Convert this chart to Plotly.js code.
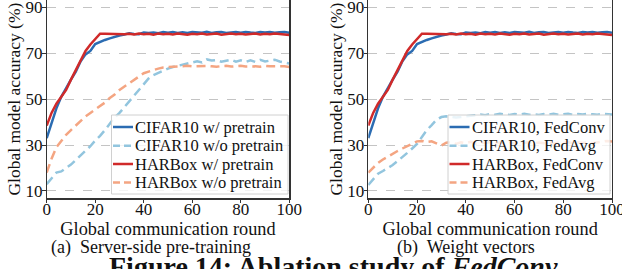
<!DOCTYPE html>
<html>
<head>
<meta charset="utf-8">
<script src="https://cdn.plot.ly/plotly-3.0.1.min.js"></script>
<style>html,body{margin:0;padding:0;background:#fff;}#chart{width:622px;height:269px;}</style>
</head>
<body>
<div id="chart"></div>
<script>
// ---- data ----
const rounds = [0,2,4,6,8,10,12,14,16,18,20,22,24,26,28,30,32,34,36,38,40,42,44,46,48,50,52,54,56,58,60,62,64,66,68,70,72,74,76,78,80,82,84,86,88,90,92,94,96,98,100];

const cifarPretrain = [33,40,46,51,55,58.5,62,66.5,69.5,71,74,75,75.8,76.5,77.2,77.7,78.2,78.7,78.4,78.3,79,78.8,79,78.7,79.2,78.9,79.2,78.8,79.1,78.8,79.2,79,78.9,79.3,78.8,79.1,79.2,78.8,79,79.2,78.9,79.3,79,78.8,79.2,79,79.3,78.9,79.1,79.3,78.9];
const harPretrain = [38.5,44,48,50.8,54,58.5,62.5,67,71,73.8,76,78.5,78.5,78.4,78.5,78.4,78.3,78.5,78.2,78.6,78.3,78.5,78.1,78.6,78.3,78.5,78.2,78.6,78.3,78.1,78.5,78.3,78.6,78.2,78.4,78.6,78.1,78.4,78.6,78.3,78.5,78.2,78.4,78.6,78.2,78.5,78.3,78.6,78.4,78.2,78];
const cifarNoPretrain = [13,15.5,18,18.5,20,21.5,23.5,25.5,27.5,29.5,32,34,36.5,39.5,42,44,46.5,49.5,51.5,54,57,59,60.5,61.5,62.5,63.3,64,64.5,65.2,65.8,66.3,66.5,66,67.3,66.8,67,66.3,66.6,67.2,66.3,66.9,66.2,66.9,66.2,67.1,66.4,66.8,67.2,66.4,65.8,65.5];
const harNoPretrain = [18,24,29,32,34.5,36.5,38.5,40.5,42.5,44,45.5,47,48.5,50.5,52,54,55.5,57,58.5,60,61.3,62,62.8,63.3,63.8,64,64.2,64.4,64.3,64.5,64.3,64.4,64.2,64.5,64.3,64.1,64.4,64.5,64.2,64.3,64.5,64.2,64.4,64.3,64.1,64.5,64.3,64.4,64.2,64.3,64];
const cifarFedAvg = [12.6,15,17.5,18.7,20,21.3,23,25,26.6,28.5,30.5,33.5,36.5,38.7,41,42.2,42.5,42.3,42,42.2,42.5,42.7,43.1,43.3,43,43.5,43.2,43.6,43.3,43.1,43.5,43.3,43.6,43.2,43.4,43.1,43.5,43.3,43.6,43.2,43.4,43.6,43.2,43.5,43.3,43.6,43.4,43.2,43.6,43.5,43.3];
const harFedAvg = [18,20.3,22.2,23.7,25,26.3,27.4,28.5,29.6,30.6,31.6,31.8,31.3,31.6,30.6,29.8,31,31.3,30.5,31.2,30.8,31.4,30.6,31.2,30.9,31.3,30.7,31.1,30.8,31.3,30.6,31.2,30.9,31.3,30.7,31.1,30.8,31.2,30.6,31.1,30.9,31.3,30.7,31.2,30.9,31.3,30.8,31.2,31.5,31.8,31.5];

const namesA = ["CIFAR10 w/ pretrain","CIFAR10 w/o pretrain","HARBox w/ pretrain","HARBox w/o pretrain"];
const namesB = ["CIFAR10, FedConv","CIFAR10, FedAvg","HARBox, FedConv","HARBox, FedAvg"];
const xTickVals = [0,20,40,60,80,100];
const yTickVals = [10,30,50,70,90];
const xTitle = "Global communication round";
const yTitle = "Global model accuracy (%)";
const captionA = "(a)  Server-side pre-training";
const captionB = "(b)  Weight vectors";
const figCaption = "Figure 14: Ablation study of <i>FedConv</i>";

// ---- styles ----
const W = 622, H = 269;
const FONT = "'Liberation Serif', 'Times New Roman', serif";
const TXT = "#111";
const styles = [
  {color:"#2b6cb2", dash:"solid"},
  {color:"#92c5de", dash:"9px,5px"},
  {color:"#d02a2a", dash:"solid"},
  {color:"#f4a582", dash:"9px,5px"}
];
const LW = 2.5;
const px = x => x / W;
const py = y => 1 - y / H;

const seriesA = [cifarPretrain, cifarNoPretrain, harPretrain, harNoPretrain];
const seriesB = [cifarPretrain, cifarFedAvg, harPretrain, harFedAvg];

const traces = [];
const order = [1,3,0,2];
order.forEach(i => {
  traces.push({x: rounds, y: seriesA[i], type:"scatter", mode:"lines", name:namesA[i], showlegend:false,
    xaxis:"x", yaxis:"y", line:{color:styles[i].color, dash:styles[i].dash, width:LW}});
});
order.forEach(i => {
  traces.push({x: rounds, y: seriesB[i], type:"scatter", mode:"lines", name:namesB[i], showlegend:false,
    xaxis:"x2", yaxis:"y2", line:{color:styles[i].color, dash:styles[i].dash, width:LW}});
});

const yRange = [6.8, 93.2];
const plotBottom = 198.3;
function xax(dom){
  return {domain:dom, range:[0,100], tickvals:xTickVals, ticks:"outside", ticklen:3.5, tickwidth:1, tickcolor:"#333",
    showline:true, linecolor:"#333", linewidth:1.2, mirror:false, showgrid:false, zeroline:false,
    ticklabeloverflow:"allow", ticklabelstandoff:-8,
    tickfont:{family:FONT, size:17, color:TXT},
    title:{text:xTitle, font:{family:FONT, size:18.3, color:TXT}, standoff:0}, fixedrange:true};
}
function yax(anchor){
  return {anchor:anchor, domain:[py(plotBottom),1], range:yRange, tickvals:yTickVals, ticks:"outside", ticklen:3.5, tickwidth:1, tickcolor:"#333",
    showline:true, linecolor:"#333", linewidth:1.2, mirror:true, showgrid:true, gridcolor:"#c4c4c4", gridwidth:1, griddash:"dash",
    zeroline:false, ticklabeloverflow:"allow", ticklabelstandoff:-4, tickfont:{family:FONT, size:17, color:TXT},
    title:{text:yTitle, font:{family:FONT, size:17.5, color:TXT}, standoff:0}, fixedrange:true};
}

const shapes = [];
const annotations = [];
function legend(x0, x1, lineX0, lineX1, textX, names){
  const top = 115, bot = 194;
  shapes.push({type:"rect", xref:"paper", yref:"paper", x0:px(x0), x1:px(x1), y0:py(bot), y1:py(top),
    line:{color:"#d0d0d0", width:1}, fillcolor:"rgba(255,255,255,0.8)", layer:"above"});
  const rows = [127, 145.7, 164, 182.5];
  names.forEach((n,i) => {
    shapes.push({type:"line", xref:"paper", yref:"paper", x0:px(lineX0), x1:px(lineX1), y0:py(rows[i]), y1:py(rows[i]),
      line:{color:styles[i].color, width:LW, dash:styles[i].dash==="solid"?"solid":"7px,4px"}, layer:"above"});
    annotations.push({xref:"paper", yref:"paper", x:px(textX), y:py(rows[i]), xanchor:"left", yanchor:"middle",
      text:n, showarrow:false, font:{family:FONT, size:16.5, color:TXT}});
  });
}
legend(111.5, 288, 113, 133, 133, namesA);
legend(448, 610, 449.5, 469.5, 470, namesB);

annotations.push({xref:"paper", yref:"paper", x:px(151), y:py(247), xanchor:"center", yanchor:"middle",
  text:captionA, showarrow:false, font:{family:FONT, size:18, color:TXT}});
annotations.push({xref:"paper", yref:"paper", x:px(466), y:py(247), xanchor:"center", yanchor:"middle",
  text:captionB, showarrow:false, font:{family:FONT, size:18, color:TXT}});
annotations.push({xref:"paper", yref:"paper", x:px(333), y:py(249), xanchor:"center", yanchor:"top",
  text:"<b>"+figCaption+"</b>", showarrow:false, font:{family:FONT, size:28, color:TXT}});

const layout = {
  width:W, height:H, margin:{l:0,r:0,t:0,b:0}, paper_bgcolor:"#fff", plot_bgcolor:"#fff",
  showlegend:false,
  xaxis: Object.assign(xax([px(46.7), px(289.3)]), {anchor:"y"}),
  yaxis: yax("x"),
  xaxis2: Object.assign(xax([px(368.3), px(612)]), {anchor:"y2"}),
  yaxis2: yax("x2"),
  shapes: shapes, annotations: annotations
};

Plotly.newPlot("chart", traces, layout, {displayModeBar:false, staticPlot:true});
</script>
</body>
</html>
